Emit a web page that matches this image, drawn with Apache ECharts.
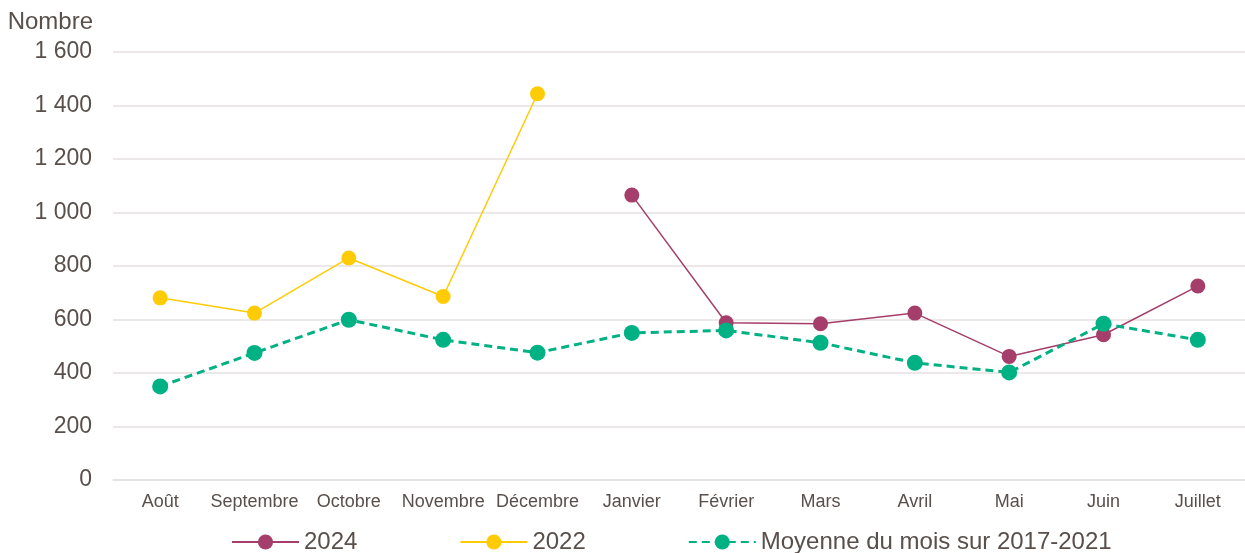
<!DOCTYPE html>
<html><head><meta charset="utf-8">
<script src="https://cdn.jsdelivr.net/npm/echarts@6/dist/echarts.min.js"></script>
<style>html,body{margin:0;padding:0;background:#fff}#c{width:1245px;height:553px}</style>
</head><body><div id="c"></div>
<script>
var categories = ['Août','Septembre','Octobre','Novembre','Décembre','Janvier','Février','Mars','Avril','Mai','Juin','Juillet'];
var s2024 = [null,null,null,null,null,1065,588,584,624,462,543,725];
var s2022 = [681,624,830,686,1444,null,null,null,null,null,null,null];
var sMoy = [350,475,599,524,476,550,559,513,438,402,584,524];
var yTicks = [0,200,400,600,800,1000,1200,1400,1600];

var txt = '#594f4b';
var fam = '"Liberation Sans", Arial, sans-serif';
function fmt(v){ var s = String(v); return s.length > 3 ? s.slice(0, s.length-3) + ' ' + s.slice(-3) : s; }

var chart = echarts.init(document.getElementById('c'), null, {renderer:'canvas'});
chart.setOption({
  animation:false,
  textStyle:{fontFamily:fam},
  grid:{left:113,right:0,top:52,bottom:73},
  legend:{
    left:226, top:525, itemWidth:67, itemHeight:19, itemGap:102,
    textStyle:{fontSize:24,color:txt,fontFamily:fam},
    data:['2024','2022','Moyenne du mois sur 2017-2021']
  },
  xAxis:{
    type:'category', data:categories, boundaryGap:true,
    axisLine:{show:true,lineStyle:{color:'#e6e1e1',width:1.5}},
    axisTick:{show:false},
    axisLabel:{fontSize:18,color:txt,margin:13,fontFamily:fam,interval:0}
  },
  yAxis:{
    type:'value', min:yTicks[0], max:yTicks[yTicks.length-1], interval:200,
    name:'Nombre', nameLocation:'end', nameGap:18,
    nameTextStyle:{fontSize:24,color:txt,align:'right',padding:[0,20,0,0],fontFamily:fam},
    axisLine:{show:false}, axisTick:{show:false},
    splitLine:{lineStyle:{color:'#e6e1e1',width:1.5}},
    axisLabel:{fontSize:23,color:txt,margin:21,fontFamily:fam,formatter:fmt}
  },
  series:[
    {name:'2024',type:'line',data:s2024,connectNulls:false,symbol:'circle',symbolSize:15,
     itemStyle:{color:'#a53e6a'},lineStyle:{color:'#a53e6a',width:1.5}},
    {name:'2022',type:'line',data:s2022,connectNulls:false,symbol:'circle',symbolSize:15,
     itemStyle:{color:'#ffcb05'},lineStyle:{color:'#ffcb05',width:1.5}},
    {name:'Moyenne du mois sur 2017-2021',type:'line',data:sMoy,symbol:'circle',symbolSize:16,
     itemStyle:{color:'#00b183'},lineStyle:{color:'#00b183',width:3,type:[8,5]}}
  ]
});
</script></body></html>
